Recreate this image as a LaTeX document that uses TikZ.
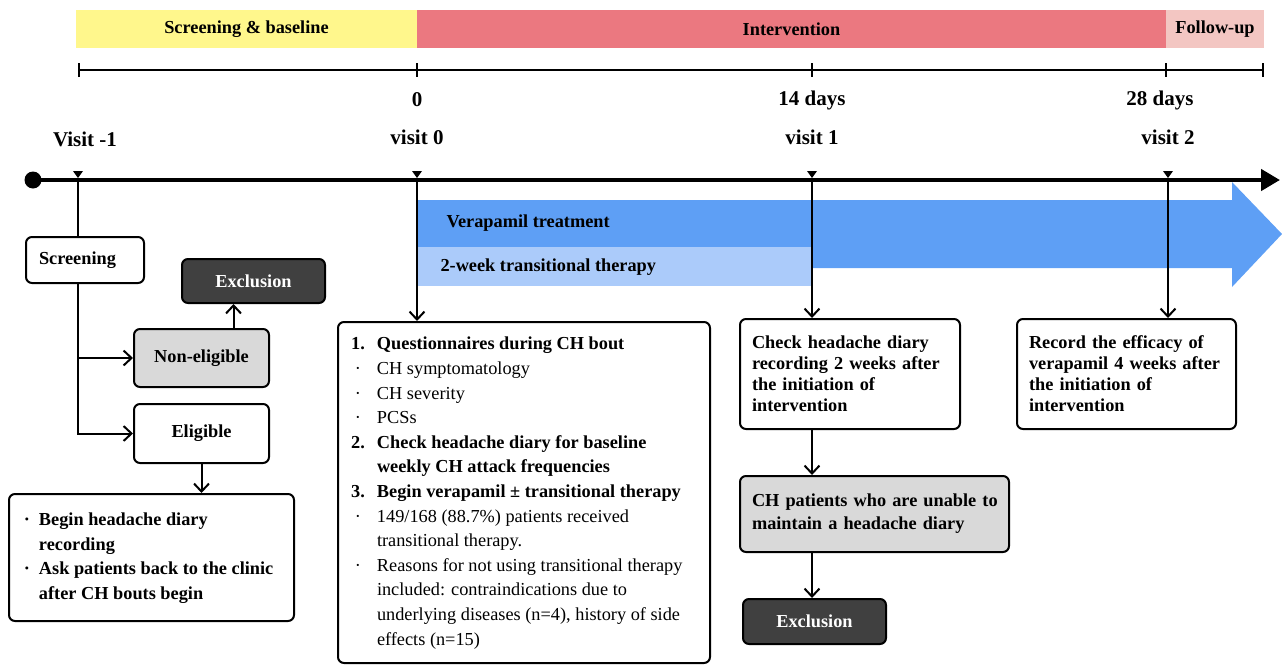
\documentclass[tikz,border=0pt]{standalone}
\usepackage{fontspec}
\setmainfont{Liberation Serif}
\usepackage{array}
\usepackage{tikz}
\usetikzlibrary{arrows.meta,positioning}
\definecolor{Scr}{HTML}{FFF78C}
\definecolor{Interv}{HTML}{EB7880}
\definecolor{Follow}{HTML}{F3C6C2}
\definecolor{Vera}{HTML}{5E9FF5}
\definecolor{Trans}{HTML}{ABCBFA}
\definecolor{Grey}{HTML}{D9D9D9}
\definecolor{Dark}{HTML}{404040}

\begin{document}
\begin{tikzpicture}[x=1pt,y=-1pt,font=\fontsize{18.3}{21}\selectfont\bfseries,
  >={Straight Barb[length=8pt,width=15pt]},
  phase/.style={anchor=west,inner sep=0pt,outer sep=0pt,minimum height=38pt},
  tlabel/.style={font=\fontsize{21}{24}\selectfont\bfseries},
  box/.style={draw,line width=2pt,rounded corners=6pt,fill=white,inner xsep=12pt,inner ysep=0pt,align=left},
  greybox/.style={box,fill=Grey},
  darkbox/.style={box,fill=Dark,text=white,align=center},
  conn/.style={line width=2pt},
  arr/.style={conn,->}]
\useasboundingbox (0,0) rectangle (1282,664);

% phases
\node[phase,fill=Scr,minimum width=341pt] (ph1) at (76,29) {Screening \& baseline};
\node[phase,fill=Interv,minimum width=749pt,right=0pt of ph1] (ph2) {Intervention};
\node[phase,fill=Follow,minimum width=98pt,right=0pt of ph2] (ph3) {Follow-up};

% scale
\coordinate (s0) at (78,70);
\coordinate (s1) at (417,70);
\coordinate (s2) at (812,70);
\coordinate (s3) at (1166,70);
\coordinate (s4) at (1264,70);
\draw[line width=2pt,{Bar[width=14pt]}-{Bar[width=14pt]}] (s0) -- (s4);
\foreach \s in {s1,s2,s3}
  \draw[line width=2pt] ([yshift=7pt]\s) -- ([yshift=-7pt]\s);
\node[tlabel] (d0) at (417,100) {0};
\node[tlabel] (d14) at (812,100) {14 days};
\node[tlabel] (d28) at (1160,100) {28 days};

% treatment bands
\fill[Vera] (417,200) -- (1232,200) -- (1232,182) -- (1282,234) -- (1232,287) -- (1232,268) -- (417,268) -- cycle;
\fill[Trans] (417,247) rectangle (812,286);
\node[anchor=west] (vera) at (443,223) {Verapamil treatment};
\node[anchor=west] (trans) at (437,267) {2-week transitional therapy};

% timeline
\coordinate (t0) at (33,180);
\coordinate (tend) at (1280,180);
\coordinate (vm1) at (78,180);
\coordinate (v0) at (417,180);
\coordinate (v1) at (812,180);
\coordinate (v2) at (1168,180);
\draw[line width=4.5pt,-{Triangle[length=19pt,width=21pt]}] (t0) -- (tend);
\fill (t0) circle (8.5pt);
\foreach \v in {vm1,v0,v1,v2}
  \fill ([shift={(-5,-9)}]\v) -- ([shift={(5,-9)}]\v) -- ([shift={(0,-2)}]\v) -- cycle;
\node[tlabel] (lm1) at (85,139) {Visit -1};
\node[tlabel] (l0) at (417,137) {visit 0};
\node[tlabel] (l1) at (812,137) {visit 1};
\node[tlabel] (l2) at (1168,137) {visit 2};

% screening branch
\node[box,anchor=north west,text width=92pt,inner xsep=13pt,minimum height=46pt] (scr) at (25,236) {Screening};
\node[darkbox,anchor=north west,minimum width=143pt,minimum height=44pt] (excl1) at (181,258) {Exclusion};
\node[greybox,anchor=north west,minimum width=135pt,minimum height=58pt,align=center] (nonel) at (133,328) {Non-eligible};
\node[box,anchor=north west,minimum width=135pt,minimum height=59pt,align=center] (elig) at (133,403) {Eligible};
\node[box,anchor=north west,inner xsep=7pt,minimum height=127pt,font=\fontsize{18.3}{24.5}\selectfont\bfseries] (diary) at (8,493)
  {\begin{tabular}{@{}>{\centering\arraybackslash}p{22pt}@{\hspace{1pt}}p{248pt}@{}}
   \textperiodcentered & Begin headache diary\\
   & recording\\
   \textperiodcentered & Ask patients back to the clinic\\
   & after CH bouts begin
   \end{tabular}};

% visit 0
\node[box,anchor=north west,inner xsep=6pt,minimum height=341pt,font=\fontsize{18.3}{24.6}\selectfont] (mid) at (337,321)
  {\begin{tabular}{@{}>{\centering\arraybackslash}p{28pt}@{\hspace{5pt}}p{327pt}@{}}
   \textbf{1.} & \textbf{Questionnaires during CH bout}\\
   \textperiodcentered & CH symptomatology\\
   \textperiodcentered & CH severity\\
   \textperiodcentered & PCSs\\
   \textbf{2.} & \textbf{Check headache diary for baseline}\\
   & \textbf{weekly CH attack frequencies}\\
   \textbf{3.} & \textbf{Begin verapamil \textpm\ transitional therapy}\\
   \textperiodcentered & 149/168 (88.7\%) patients received\\
   & transitional therapy.\\
   \textperiodcentered & Reasons for not using transitional therapy\\
   & included: contraindications due to\\
   & underlying diseases (n=4), history of side\\
   & effects (n=15)
   \end{tabular}};

% visit 1
\node[box,anchor=north west,text width=196pt,minimum height=110pt] (chk) at (739,318)
  {Check headache diary\\recording 2 weeks after\\the initiation of\\intervention};
\node[greybox,anchor=north west,text width=245pt,minimum height=76pt,font=\fontsize{18.3}{23}\selectfont\bfseries] (unable) at (739,475)
  {\mbox{CH patients who are unable to}\\maintain a headache diary};
\node[darkbox,anchor=north west,minimum width=143pt,minimum height=45pt] (excl2) at (742,598) {Exclusion};

% visit 2
\node[box,anchor=north west,text width=195pt,minimum height=110pt] (rec) at (1016,318)
  {Record the efficacy of\\verapamil 4 weeks after\\the initiation of\\intervention};

% connectors
\draw[conn] (vm1) -- (vm1 |- scr.north);
\draw[arr] (vm1 |- scr.south) |- (elig.west);
\draw[arr] (vm1 |- nonel.west) -- (nonel.west);
\draw[arr] ([xshift=32pt]nonel.north) -- ([xshift=32pt]nonel.north |- excl1.south);
\draw[arr] (elig.south) -- (elig.south |- diary.north);
\draw[arr] (v0) -- (v0 |- mid.north);
\draw[arr] (v1) -- (v1 |- chk.north);
\draw[arr] (v1 |- chk.south) -- (v1 |- unable.north);
\draw[arr] (v1 |- unable.south) -- (v1 |- excl2.north);
\draw[arr] (v2) -- (v2 |- rec.north);
\end{tikzpicture}
\end{document}
